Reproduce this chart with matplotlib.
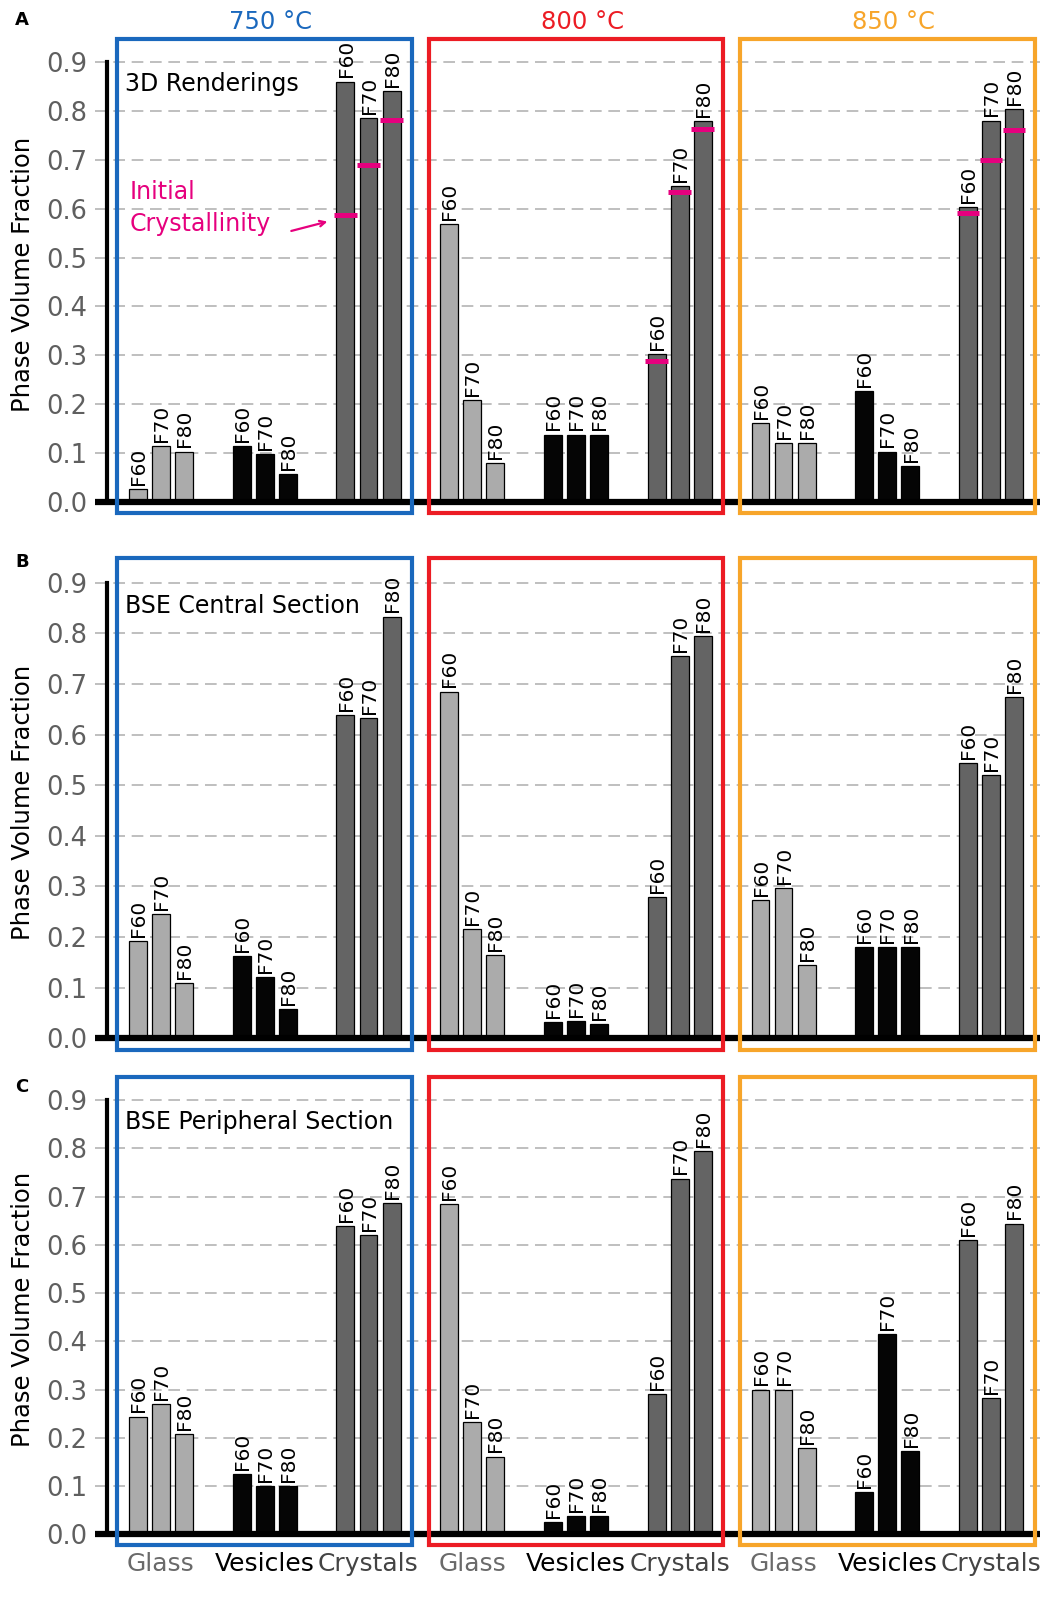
import matplotlib
matplotlib.use("Agg")
import matplotlib.pyplot as plt
from matplotlib.patches import Rectangle

plt.rcParams['font.family'] = ['DejaVu Sans']

temps = ['750 °C', '800 °C', '850 °C']
temp_colors = ['#1a68bd', '#ec1c24', '#f7a52a']
phases = ['Glass', 'Vesicles', 'Crystals']
series = ['F60', 'F70', 'F80']

# one row per (temperature, phase), columns F60 / F70 / F80
render_3d = [
    [0.027, 0.114, 0.103],
    [0.114, 0.098, 0.057],
    [0.860, 0.785, 0.840],
    [0.568, 0.208, 0.079],
    [0.138, 0.138, 0.138],
    [0.302, 0.646, 0.779],
    [0.161, 0.120, 0.120],
    [0.227, 0.103, 0.074],
    [0.603, 0.780, 0.803],
]
initial_crystallinity = [
    [0.587, 0.689, 0.782],
    [0.289, 0.634, 0.763],
    [0.592, 0.699, 0.760],
]
bse_central = [
    [0.192, 0.245, 0.109],
    [0.163, 0.121, 0.057],
    [0.638, 0.632, 0.833],
    [0.685, 0.215, 0.165],
    [0.032, 0.034, 0.028],
    [0.279, 0.755, 0.794],
    [0.273, 0.297, 0.145],
    [0.180, 0.180, 0.180],
    [0.544, 0.520, 0.674],
]
bse_peripheral = [
    [0.244, 0.270, 0.208],
    [0.124, 0.100, 0.100],
    [0.638, 0.620, 0.686],
    [0.685, 0.232, 0.161],
    [0.026, 0.038, 0.038],
    [0.291, 0.737, 0.794],
    [0.300, 0.300, 0.179],
    [0.088, 0.415, 0.173],
    [0.609, 0.283, 0.644],
]
y_ticks = [0.0, 0.1, 0.2, 0.3, 0.4, 0.5, 0.6, 0.7, 0.8, 0.9]

bar_colors = ['#ababab', '#050505', '#646464']
label_colors = ['#6a6a6a', '#000000', '#444444']
marker_color = '#e6007e'
offsets = [-0.222, 0.0, 0.222]
bar_w = 0.173

W, H = 1040, 1607
fig = plt.figure(figsize=(W / 100, H / 100), dpi=100)


def px_axes(zero_px, top_px):
    # axes rectangle from pixel rows of y=0 and y=0.9
    per_unit = (zero_px - top_px) / 0.9
    bottom_px = zero_px + 0.03 * per_unit
    top_edge = top_px - 0.06 * per_unit
    return [95 / W, (H - bottom_px) / H, 945 / W, (bottom_px - top_edge) / H]


def draw_panel(ax, values, title, show_x):
    ax.set_xlim(-0.636, 8.472)
    ax.set_ylim(-0.03, 0.96)
    ax.set_axisbelow(True)
    ax.yaxis.grid(True, color='#b4b4b4', lw=1.2, linestyle=(0, (7, 4)))

    for p, row in enumerate(values):
        kind = p % 3
        for i, v in enumerate(row):
            x = p + offsets[i]
            ax.bar(x, v, width=bar_w, color=bar_colors[kind], edgecolor='black',
                   linewidth=0.9, zorder=2)
            ax.annotate(series[i], (x, v), xytext=(0.5, 3), textcoords='offset points',
                        rotation=90, ha='center', va='bottom', fontsize=14.5)

    ax.axhline(0, color='black', lw=4.5, zorder=3)

    for g in range(3):
        ax.add_patch(Rectangle((g * 3 - 0.42, -0.023), 2.84, 0.971, fill=False,
                               ec=temp_colors[g], lw=3, zorder=4, clip_on=False))

    for s in ['top', 'right', 'bottom']:
        ax.spines[s].set_visible(False)
    ax.spines['left'].set_position(('data', -0.52))
    ax.spines['left'].set_bounds(0, 0.9)
    ax.spines['left'].set_linewidth(3)

    ax.set_yticks(y_ticks)
    ax.set_yticklabels([f'{t:.1f}' for t in y_ticks], fontsize=18.5, color='#5f5f5f')
    ax.tick_params(axis='y', length=0, pad=14)
    ax.set_ylabel('Phase Volume Fraction', fontsize=17.5)
    ax.yaxis.set_label_coords(-0.064, 0.5)

    ax.set_xticks(range(9))
    if show_x:
        ax.set_xticklabels(phases * 3, fontsize=18)
        for lab, c in zip(ax.get_xticklabels(), label_colors * 3):
            lab.set_color(c)
        ax.tick_params(axis='x', length=0, pad=2)
    else:
        ax.tick_params(axis='x', length=0, labelbottom=False)

    ax.text(-0.347, 0.854, title, fontsize=17, ha='left', va='center')


ax_a = fig.add_axes(px_axes(502, 62))
ax_b = fig.add_axes(px_axes(1038.3, 582.7))
ax_c = fig.add_axes(px_axes(1534.3, 1100))

draw_panel(ax_a, render_3d, '3D Renderings', False)
draw_panel(ax_b, bse_central, 'BSE Central Section', False)
draw_panel(ax_c, bse_peripheral, 'BSE Peripheral Section', True)

# initial crystallinity marks on the crystal bars of panel A
for g, row in enumerate(initial_crystallinity):
    p = g * 3 + 2
    for i, v in enumerate(row):
        x = p + offsets[i]
        ax_a.hlines(v, x - 0.11, x + 0.11, color=marker_color, lw=3.6, zorder=5)

ax_a.text(-0.30, 0.601, 'Initial\nCrystallinity', color=marker_color, fontsize=17,
          ha='left', va='center', linespacing=1.4)
ax_a.annotate('', xy=(1.63, 0.575), xytext=(1.23, 0.553),
              arrowprops=dict(arrowstyle='->', color=marker_color, lw=1.6))

for g, t in enumerate(temps):
    ax_a.text(g * 3 + 1.06, 0.982, t, color=temp_colors[g], fontsize=17.5,
              ha='center', va='center', clip_on=False)

for letter, ypx in [('A', 20), ('B', 562), ('C', 1087)]:
    fig.text(15 / W, 1 - ypx / H, letter, fontsize=13, fontweight='bold',
             ha='left', va='center')

fig.savefig('out.png', dpi=100)
